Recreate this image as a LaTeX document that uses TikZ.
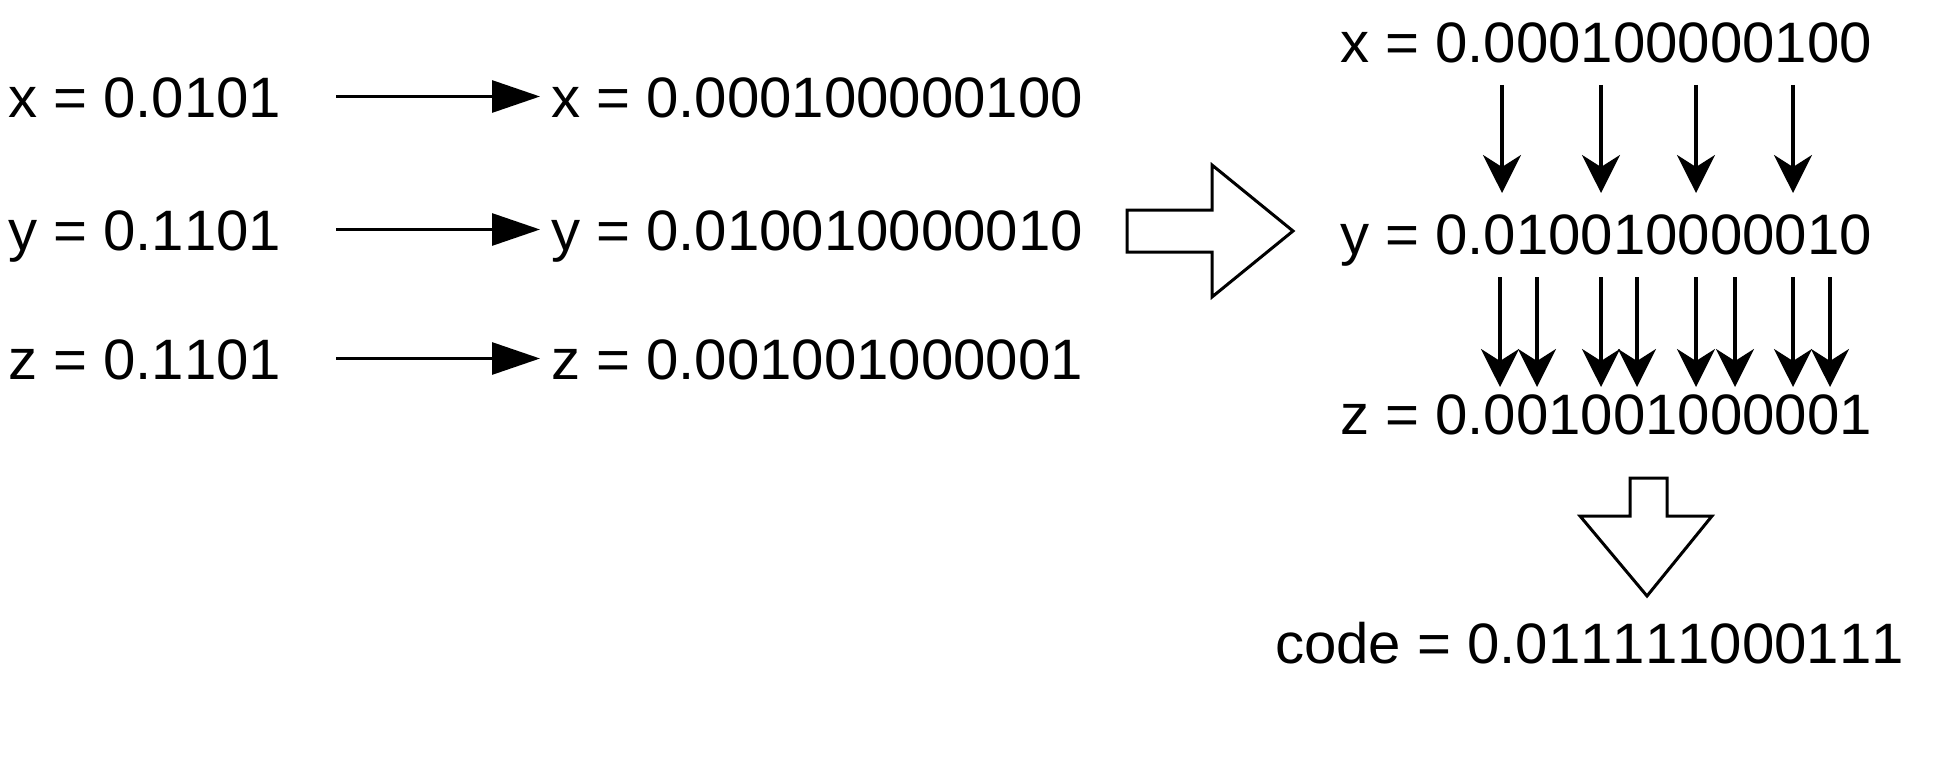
\documentclass[tikz,border=0pt]{standalone}
\usepackage{fontspec}
\setmainfont{Liberation Sans}[FakeStretch=1.02,Kerning=Off]
\usetikzlibrary{arrows.meta}
\tikzset{
  lbl/.style={inner sep=0pt, outer sep=0pt, anchor=base west, text height=41bp, text depth=0pt,
    font=\fontsize{57bp}{60bp}\selectfont},
  harrow/.style={line width=3bp, -{Triangle[length=48bp,width=32bp]}},
  varrow/.style={line width=3.5bp, -{Stealth[length=38bp,width=38bp,inset=12bp]}},
  hollow/.style={line width=3bp, line join=miter, fill=white, draw=black}
}
\begin{document}
\begin{tikzpicture}[x=1bp,y=-1bp]
\useasboundingbox (0,0) rectangle (1938,775);
% left column
\node[lbl] (lx) at (8,117) {x = 0.0101};
\node[lbl] (ly) at (8,250) {y = 0.1101};
\node[lbl] (lz) at (8,379) {z = 0.1101};
% middle column
\node[lbl] (mx) at (551,117) {x = 0.000100000100};
\node[lbl] (my) at (551,250) {y = 0.010010000010};
\node[lbl] (mz) at (551,379) {z = 0.001001000001};
\draw[harrow, shorten <=55bp, shorten >=11bp] (lx) -- (mx);
\draw[harrow, shorten <=55bp, shorten >=11bp] (ly) -- (my);
\draw[harrow, shorten <=55bp, shorten >=11bp] (lz) -- (mz);
% big hollow right arrow
\draw[hollow] (1127,210) -- (1212,210) -- (1212,165) -- (1293,231) -- (1212,297) -- (1212,252) -- (1127,252) -- cycle;
% right column
\node[lbl] (rx) at (1340,63) {x = 0.000100000100};
\node[lbl] (ry) at (1340,254) {y = 0.010010000010};
\node[lbl] (rz) at (1340,434) {z = 0.001001000001};
\node[lbl] (code) at (1275,663) {code = 0.011111000111};
% x -> y arrows
\foreach \i/\xx in {1/1502,2/1601,3/1696,4/1793}{
  \coordinate (xa\i) at (\xx,85);
  \coordinate (xb\i) at (\xx,193);
  \draw[varrow] (xa\i) -- (xb\i);
}
% y -> z arrows
\foreach \i/\xx in {1/1500,2/1537,3/1601,4/1637,5/1696,6/1735,7/1793,8/1830}{
  \coordinate (ya\i) at (\xx,277);
  \coordinate (yb\i) at (\xx,387);
  \draw[varrow] (ya\i) -- (yb\i);
}
% hollow down arrow
\draw[hollow] (1630,478) -- (1667,478) -- (1667,516) -- (1712,516) -- (1647,596) -- (1580,516) -- (1630,516) -- cycle;
\end{tikzpicture}
\end{document}
